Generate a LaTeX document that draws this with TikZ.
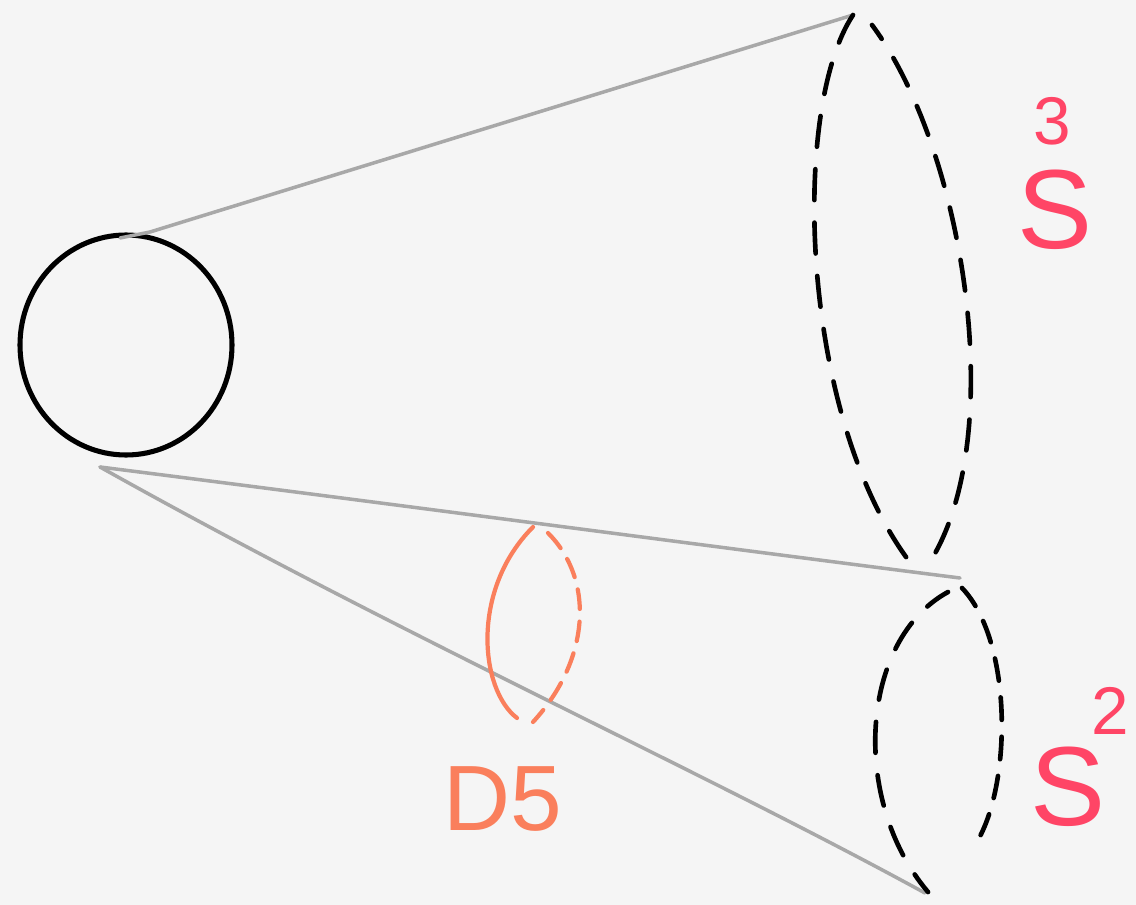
\documentclass[tikz,border=0pt]{standalone}
\usepackage{fontspec}
\setmainfont{Liberation Sans}
\definecolor{paper}{HTML}{F5F5F5}
\definecolor{conegray}{HTML}{A8A8A8}
\definecolor{dcoral}{HTML}{FA7F5C}
\definecolor{sphred}{HTML}{FF4566}
\begin{document}
\begin{tikzpicture}[
  x=0.025cm, y=-0.025cm,
  conel/.style={conegray, line width=2.5pt, line cap=round},
  loopd/.style={black, line width=3.3pt, line cap=round, dash pattern=on 22pt off 16pt},
  ring/.style={black, line width=3.6pt},
  brane/.style={dcoral, line width=3pt, line cap=round},
  branedash/.style={brane, dash pattern=on 14pt off 9pt},
  lbl/.style={inner sep=0pt, anchor=center, text depth=0pt},
  bigl/.style={lbl, sphred, font=\fontsize{80}{84}\selectfont, text height=57pt},
  supl/.style={lbl, sphred, font=\fontsize{48}{52}\selectfont, text height=35pt},
]
% canvas
\fill[paper] (0,0) rectangle (1136,905);
\useasboundingbox (0,0) rectangle (1136,905);

% apex circle
\draw[ring] (126,345) ellipse [x radius=106, y radius=110];

% cone apices
\coordinate (tipa) at (120,238);
\coordinate (tipb) at (100,467);
\coordinate (topa) at (853,15);
\coordinate (pinch) at (960,578);
\coordinate (bota) at (925,893);

% cone sides
\draw[conel] (tipa) -- (150,232) -- (topa);
\draw[conel] (tipb) .. controls (400,505) and (700,545) .. (pinch);
\draw[conel] (tipb) .. controls (400,635) and (700,770) .. (bota);

% upper dashed loop (S^3)
\draw[loopd] (topa) .. controls (790,110) and (800,420) .. (912,565);
\draw[loopd, dash phase=10pt] (872,25) .. controls (965,150) and (1010,440) .. (928,565);

% lower dashed loop (S^2)
\draw[loopd, dash phase=4pt] (948,592) .. controls (860,640) and (850,800) .. (928,892);
\draw[loopd, dash pattern=on 16pt off 12pt] (962,588) .. controls (1012,640) and (1012,780) .. (978,840);

% D5 brane
\draw[brane] (533,527) .. controls (470,590) and (480,690) .. (517,718);
\draw[branedash] (548,533) .. controls (595,580) and (590,660) .. (533,722);

% labels
\node[lbl, dcoral, font=\fontsize{66}{70}\selectfont, text height=47pt] (dlab) at (503,797) {D5};
\node[bigl] (sthree) at (1055,208) {S};
\node[supl] (ethree) at (1052,120) {3};
\node[bigl] (stwo) at (1068,785) {S};
\node[supl] (etwo) at (1110,710) {2};
\end{tikzpicture}
\end{document}
